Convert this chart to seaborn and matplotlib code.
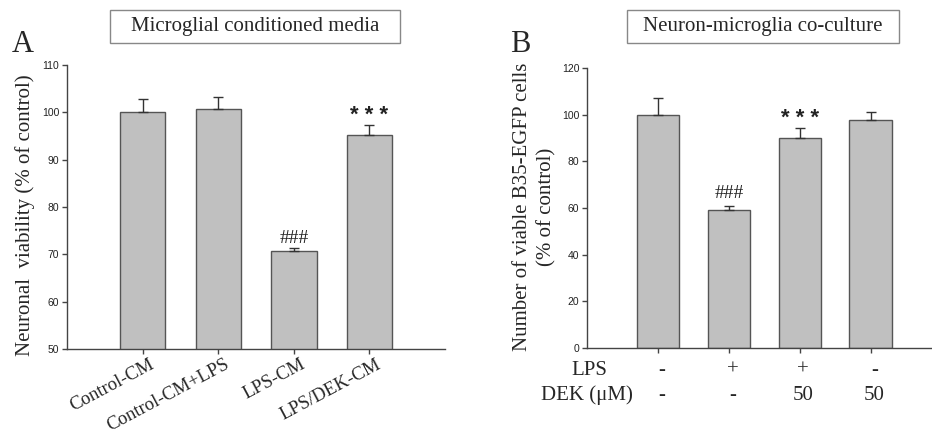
import matplotlib
matplotlib.use('Agg')
import matplotlib.pyplot as plt
import matplotlib.patches as patches
import matplotlib.transforms as mtransforms
import numpy as np
import seaborn as sns

# Panel A data: microglial conditioned media
a_groups = ['Control-CM', 'Control-CM+LPS', 'LPS-CM', 'LPS/DEK-CM']
a_values = [100.0, 100.6, 70.6, 95.2]
a_errors = [2.8, 2.6, 0.7, 2.2]
a_marks = ['', '', '###', '* * *']
a_yticks = [50, 60, 70, 80, 90, 100, 110]

# Panel B data: neuron-microglia co-culture
b_groups = ['g1', 'g2', 'g3', 'g4']
b_values = [100.0, 59.0, 90.0, 97.7]
b_errors = [7.0, 1.8, 4.5, 3.6]
b_marks = ['', '###', '* * *', '']
b_lps = ['-', '+', '+', '-']
b_dek = ['-', '-', '50', '50']
b_yticks = [0, 20, 40, 60, 80, 100, 120]

sns.set_style('ticks')
SERIF = ['Liberation Serif', 'DejaVu Serif']
SANS = ['Liberation Sans', 'DejaVu Sans']
plt.rcParams['font.family'] = SERIF

BAR = '#c0c0c0'
EDGE = '#555555'
AXC = '#444444'

fig = plt.figure(figsize=(9.32, 4.41), dpi=100)
axA = fig.add_axes([0.0719, 0.2086, 0.4056, 0.644])
axB = fig.add_axes([0.6298, 0.2109, 0.3692, 0.6349])


def draw_panel(ax, groups, values, errors, marks, yticks, ylim, xlim, mark_off):
    sns.barplot(x=groups, y=values, color=BAR, edgecolor=EDGE, linewidth=1,
                width=0.6, saturation=1, ax=ax)
    x = np.arange(len(values))
    ax.errorbar(x, values, yerr=[np.zeros(len(errors)), errors], fmt='none',
                ecolor='#333333', elinewidth=1, capsize=3.5, capthick=1)
    for xi, v, e, m in zip(x, values, errors, marks):
        if not m:
            continue
        if m.startswith('*'):
            ax.annotate(m, (xi, v + e), xytext=(0, 2.5), textcoords='offset points',
                        ha='center', va='baseline', fontsize=16, family=SANS,
                        fontweight='bold', color='#222')
        else:
            ax.annotate(m, (xi, v + e), xytext=(0, mark_off), textcoords='offset points',
                        ha='center', va='bottom', fontsize=14, family=SERIF, color='#222')
    ax.set_ylim(*ylim)
    ax.set_xlim(*xlim)
    ax.set_yticks(yticks)
    ax.set_yticklabels([str(t) for t in yticks], family=SANS, fontsize=7.5, color='#222')
    for s in ['top', 'right']:
        ax.spines[s].set_visible(False)
    for s in ['left', 'bottom']:
        ax.spines[s].set_color(AXC)
        ax.spines[s].set_linewidth(1)
    ax.tick_params(axis='y', length=3.5, width=1, color=AXC, pad=2)
    ax.tick_params(axis='x', length=3.5, width=1, color=AXC)
    ax.set_xlabel('')


# Panel A
draw_panel(axA, a_groups, a_values, a_errors, a_marks, a_yticks, (50, 110), (-1, 4), 1)
axA.set_xticks(range(len(a_groups)))
axA.set_xticklabels(a_groups, rotation=28, ha='right', va='top',
                    rotation_mode='anchor', fontsize=13.5, family=SERIF)
off = mtransforms.ScaledTranslation(6 / 100, 3 / 100, fig.dpi_scale_trans)
for lab in axA.get_xticklabels():
    lab.set_transform(lab.get_transform() + off)
axA.set_ylabel('Neuronal  viability (% of control)', fontsize=15, family=SERIF)
axA.yaxis.set_label_coords(-0.085, 0.472)

# Panel B
draw_panel(axB, b_groups, b_values, b_errors, b_marks, b_yticks, (0, 120), (-1, 3.85), 3)
axB.set_xticks(range(len(b_groups)))
axB.set_xticklabels([''] * len(b_groups))
axB.set_ylabel('Number of viable B35-EGFP cells\n(% of control)', fontsize=15,
               family=SERIF, linespacing=1.35)
axB.yaxis.set_label_coords(-0.09, 0.504)
trans = mtransforms.blended_transform_factory(axB.transData, axB.transAxes)
for i, (l, d) in enumerate(zip(b_lps, b_dek)):
    axB.text(i + 0.05, -0.08, l, transform=trans, ha='center', va='center', fontsize=15)
    axB.text(i + 0.05, -0.168, d, transform=trans, ha='center', va='center', fontsize=15)
axB.text(0.008, -0.08, 'LPS', transform=axB.transAxes, ha='center', va='center', fontsize=15)
axB.text(0.0, -0.168, 'DEK (\u03bcM)', transform=axB.transAxes, ha='center', va='center', fontsize=15)

# Panel letters and boxed titles
fig.text(23 / 932, 1 - 52 / 441, 'A', fontsize=22, ha='center', va='baseline')
fig.text(520 / 932, 1 - 52 / 441, 'B', fontsize=22, ha='center', va='baseline')
for (x0, x1), title in [((110, 400), 'Microglial conditioned media'),
                        ((627, 899), 'Neuron-microglia co-culture')]:
    rect = patches.Rectangle((x0 / 932, 1 - 43 / 441), (x1 - x0) / 932, 33 / 441,
                             transform=fig.transFigure, fill=False,
                             edgecolor='#888888', linewidth=1)
    fig.patches.append(rect)
    fig.text((x0 + x1) / 2 / 932, 1 - 27 / 441, title, fontsize=15,
             ha='center', va='center')

fig.savefig('out.png', dpi=100)
